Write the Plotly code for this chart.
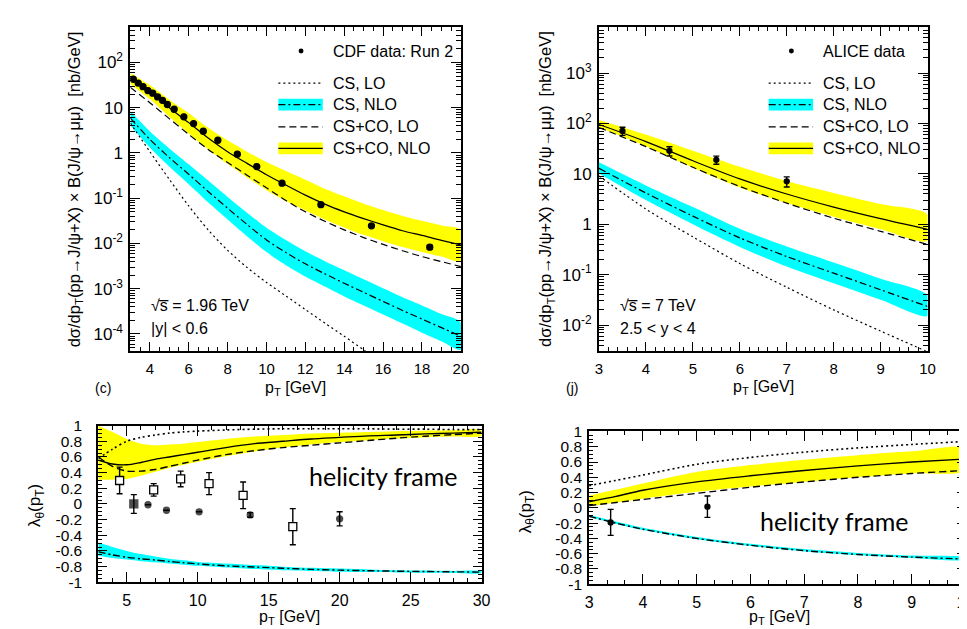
import plotly.graph_objects as go

W, H = 967, 629
def fx(p): return p / W
def fy(p): return 1 - p / H

# ---------------- top-left: Tevatron, CDF Run 2 ----------------
TL_X = [3, 4, 5, 6, 7, 8, 9, 10, 11, 12, 13, 14, 15, 16, 17, 18, 19, 20]
TL_COCS_NLO = [45.7, 22.9, 10.0, 4.68, 2.14, 1.07, 0.589, 0.331, 0.195, 0.117, 0.0741, 0.0501,
               0.0355, 0.0257, 0.0191, 0.0151, 0.0117, 0.00933]
TL_COCS_NLO_HI = [58.9, 31.6, 15.1, 7.59, 3.63, 1.91, 1.07, 0.631, 0.398, 0.257, 0.162, 0.110,
                  0.0759, 0.0550, 0.0407, 0.0316, 0.0251, 0.0200]
TL_COCS_NLO_LO = [33.1, 15.5, 6.31, 2.69, 1.20, 0.575, 0.288, 0.151, 0.0871, 0.0537, 0.0339, 0.0224,
                  0.0155, 0.0112, 0.00832, 0.00646, 0.00513, 0.00407]
TL_COCS_LO = [28.2, 12.9, 5.75, 2.57, 1.20, 0.617, 0.324, 0.170, 0.0891, 0.0501, 0.0309, 0.0200,
              0.0135, 0.00955, 0.00692, 0.00513, 0.00398, 0.00309]
TL_CS_NLO = [5.89, 2.00, 0.794, 0.339, 0.141, 0.0603, 0.0263, 0.0120, 0.00631, 0.00355, 0.00214,
             0.00132, 8.32e-4, 5.25e-4, 3.31e-4, 2.14e-4, 1.38e-4, 8.91e-5]
TL_CS_NLO_HI = [8.51, 3.02, 1.26, 0.562, 0.245, 0.107, 0.0479, 0.0224, 0.0120, 0.00676, 0.00407,
                0.00257, 0.00162, 0.00102, 6.46e-4, 4.27e-4, 2.75e-4, 1.78e-4]
TL_CS_NLO_LO = [4.07, 1.32, 0.501, 0.204, 0.0813, 0.0339, 0.0145, 0.00646, 0.00331, 0.00186, 0.00112,
                6.76e-4, 4.27e-4, 2.69e-4, 1.70e-4, 1.07e-4, 6.92e-5, 4.47e-5]
TL_CS_LO_X = [3, 4, 5, 6, 7, 8, 9, 10, 11, 12, 13, 14, 15, 16]
TL_CS_LO = [4.57, 1.07, 0.263, 0.0676, 0.0200, 0.00708, 0.00295, 0.00138, 6.92e-4, 3.47e-4,
            1.74e-4, 8.91e-5, 4.47e-5, 2.29e-5]
CDF_X = [3.15, 3.4, 3.65, 3.9, 4.15, 4.4, 4.65, 4.9, 5.25, 5.75, 6.25, 6.75, 7.5, 8.5, 9.5,
         10.8, 12.8, 15.4, 18.4]
CDF_Y = [42.6, 35.0, 29.2, 23.9, 21.0, 17.3, 14.6, 11.8, 9.25, 6.3, 4.47, 3.02, 1.91, 0.94, 0.50,
         0.215, 0.072, 0.0245, 0.0083]
CDF_ERR = [0, 0, 0, 0, 0, 0, 0, 0, 0, 0, 0, 0, 0, 0, 0, 0, 0, 0, 0.0009]

# ---------------- top-right: LHC 7 TeV, ALICE ----------------
TR_X = [3, 4, 5, 6, 7, 8, 9, 10]
TR_COCS_NLO = [95.5, 43.7, 18.2, 7.94, 3.98, 2.19, 1.29, 0.794]
TR_COCS_NLO_HI = [117.5, 60.3, 28.8, 13.8, 7.24, 4.17, 2.51, 1.55]
TR_COCS_NLO_LO = [83.2, 35.5, 13.2, 5.37, 2.63, 1.41, 0.794, 0.468]
TR_COCS_LO = [83.2, 34.7, 13.5, 5.62, 2.63, 1.32, 0.724, 0.398]
TR_CS_NLO = [12.9, 4.17, 1.45, 0.537, 0.229, 0.107, 0.0501, 0.0234]
TR_CS_NLO_HI = [17.0, 5.89, 2.19, 0.813, 0.363, 0.174, 0.0832, 0.0389]
TR_CS_NLO_LO = [10.2, 3.02, 1.00, 0.355, 0.145, 0.0676, 0.0316, 0.0151]
TR_CS_LO = [9.12, 2.00, 0.562, 0.166, 0.0562, 0.0200, 0.00759, 0.00295]
ALICE_X = [3.5, 4.5, 5.5, 7.0]
ALICE_Y = [71, 28.6, 19.0, 7.1]
ALICE_ERR = [13, 6, 3.5, 1.6]

# ---------------- bottom-left: polarisation, Tevatron ----------------
BL_X = [3, 4, 5, 6, 7, 8, 9, 10, 12, 14, 16, 18, 20, 22, 24, 26, 28, 30]
BL_COCS_NLO = [0.56, 0.51, 0.50, 0.53, 0.57, 0.60, 0.63, 0.66, 0.72, 0.77, 0.80, 0.83, 0.85, 0.87,
               0.88, 0.895, 0.905, 0.915]
BL_COCS_NLO_HI = [1.0, 0.92, 0.83, 0.77, 0.75, 0.76, 0.77, 0.79, 0.83, 0.86, 0.88, 0.90, 0.91, 0.92,
                  0.93, 0.935, 0.94, 0.945]
BL_COCS_NLO_LO = [0.31, 0.31, 0.32, 0.36, 0.41, 0.46, 0.50, 0.54, 0.61, 0.67, 0.72, 0.76, 0.79, 0.815,
                  0.835, 0.85, 0.86, 0.87]
BL_COCS_LO = [0.60, 0.48, 0.42, 0.42, 0.44, 0.48, 0.52, 0.56, 0.63, 0.68, 0.72, 0.75, 0.78, 0.81,
              0.84, 0.865, 0.885, 0.905]
BL_CS_LO = [0.58, 0.70, 0.80, 0.85, 0.88, 0.905, 0.92, 0.93, 0.945, 0.955, 0.96, 0.96, 0.96, 0.96,
            0.955, 0.955, 0.95, 0.95]
BL_CS_NLO = [-0.61, -0.65, -0.68, -0.70, -0.715, -0.735, -0.75, -0.765, -0.79, -0.805, -0.82, -0.835,
             -0.845, -0.852, -0.858, -0.862, -0.866, -0.87]
BL_CS_NLO_HI = [-0.49, -0.55, -0.60, -0.64, -0.67, -0.70, -0.72, -0.74, -0.76, -0.78, -0.80, -0.815,
                -0.825, -0.835, -0.845, -0.85, -0.855, -0.86]
BL_CS_NLO_LO = [-0.66, -0.69, -0.71, -0.73, -0.745, -0.76, -0.775, -0.79, -0.81, -0.83, -0.845, -0.855,
                -0.865, -0.87, -0.875, -0.878, -0.88, -0.882]
RUN2_X = [4.5, 6.9, 8.8, 10.8, 13.2, 16.7]
RUN2_Y = [0.30, 0.18, 0.32, 0.26, 0.11, -0.29]
RUN2_ERR = [0.17, 0.08, 0.10, 0.14, 0.17, 0.23]
RUN1_X = [5.5, 6.5, 7.8, 10.1, 13.7, 20.0]
RUN1_Y = [0.0, -0.01, -0.08, -0.10, -0.14, -0.19]
RUN1_ERR = [0.12, 0, 0, 0, 0.03, 0.09]

# ---------------- bottom-right: polarisation, LHC ----------------
BR_X = [3, 3.5, 4, 5, 6, 7, 8, 9, 10]
BR_COCS_NLO = [0.08, 0.15, 0.23, 0.34, 0.42, 0.49, 0.55, 0.60, 0.64]
BR_COCS_NLO_HI = [0.16, 0.24, 0.32, 0.47, 0.56, 0.63, 0.69, 0.74, 0.78]
BR_COCS_NLO_LO = [0.02, 0.07, 0.12, 0.21, 0.28, 0.34, 0.40, 0.45, 0.49]
BR_COCS_LO = [0.03, 0.07, 0.11, 0.19, 0.27, 0.34, 0.40, 0.45, 0.49]
BR_CS_LO = [0.29, 0.36, 0.43, 0.57, 0.66, 0.73, 0.785, 0.83, 0.87]
BR_CS_NLO = [-0.11, -0.20, -0.28, -0.40, -0.49, -0.56, -0.61, -0.645, -0.67]
BR_CS_NLO_HI = [-0.09, -0.18, -0.26, -0.38, -0.47, -0.54, -0.59, -0.625, -0.65]
BR_CS_NLO_LO = [-0.12, -0.21, -0.29, -0.41, -0.50, -0.57, -0.62, -0.655, -0.68]
BR_DATA_X = [3.4, 5.2]
BR_DATA_Y = [-0.19, 0.015]
BR_DATA_ERR = [0.17, 0.14]

YELLOW = "#ffff00"
CYAN = "#00ffff"
DOT = "2px,3px"
DASH = "7px,4px"
DASHDOT = "7px,3px,2px,3px"
FONT = "Liberation Sans, Arial, Helvetica, sans-serif"

fig = go.Figure()

def band(x, hi, lo, color, n):
    xs = list(x) + list(x)[::-1]
    ys = list(hi) + list(lo)[::-1]
    fig.add_trace(go.Scatter(x=xs, y=ys, fill="toself", fillcolor=color, mode="lines",
                             line=dict(width=0, shape="spline", smoothing=0.8),
                             xaxis="x" + n, yaxis="y" + n, hoverinfo="skip", showlegend=False))

def curve(x, y, dash, n, width=1.2):
    fig.add_trace(go.Scatter(x=x, y=y, mode="lines",
                             line=dict(color="black", width=width, dash=dash, shape="spline", smoothing=0.8),
                             xaxis="x" + n, yaxis="y" + n, hoverinfo="skip", showlegend=False))

def points(x, y, err, n, symbol="circle", size=6, color="black"):
    fig.add_trace(go.Scatter(x=x, y=y, mode="markers",
                             marker=dict(symbol=symbol, size=size, color=color,
                                         line=dict(color="black", width=1.3)),
                             error_y=dict(type="data", array=err, visible=True, color="black",
                                          thickness=1.4, width=3),
                             xaxis="x" + n, yaxis="y" + n, showlegend=False))

# panel 1
band(TL_X, TL_COCS_NLO_HI, TL_COCS_NLO_LO, YELLOW, "")
band(TL_X, TL_CS_NLO_HI, TL_CS_NLO_LO, CYAN, "")
curve(TL_CS_LO_X, TL_CS_LO, DOT, "")
curve(TL_X, TL_CS_NLO, DASHDOT, "")
curve(TL_X, TL_COCS_LO, DASH, "")
curve(TL_X, TL_COCS_NLO, "solid", "")
points(CDF_X, CDF_Y, CDF_ERR, "", size=6)

# panel 2
band(TR_X, TR_COCS_NLO_HI, TR_COCS_NLO_LO, YELLOW, "2")
band(TR_X, TR_CS_NLO_HI, TR_CS_NLO_LO, CYAN, "2")
curve(TR_X, TR_CS_LO, DOT, "2")
curve(TR_X, TR_CS_NLO, DASHDOT, "2")
curve(TR_X, TR_COCS_LO, DASH, "2")
curve(TR_X, TR_COCS_NLO, "solid", "2")
points(ALICE_X, ALICE_Y, ALICE_ERR, "2", size=5)

# panel 3
band(BL_X, BL_COCS_NLO_HI, BL_COCS_NLO_LO, YELLOW, "3")
band(BL_X, BL_CS_NLO_HI, BL_CS_NLO_LO, CYAN, "3")
curve(BL_X, BL_CS_LO, DOT, "3", width=1.6)
curve(BL_X, BL_CS_NLO, DASHDOT, "3", width=1.4)
curve(BL_X, BL_COCS_LO, DASH, "3", width=1.4)
curve(BL_X, BL_COCS_NLO, "solid", "3", width=1.4)
points(RUN2_X, RUN2_Y, RUN2_ERR, "3", symbol="square", size=8, color="white")
points(RUN1_X, RUN1_Y, RUN1_ERR, "3", symbol=["square"] + ["circle"] * 5, size=[8, 6, 6, 6, 6, 6])

# panel 4
band(BR_X, BR_COCS_NLO_HI, BR_COCS_NLO_LO, YELLOW, "4")
band(BR_X, BR_CS_NLO_HI, BR_CS_NLO_LO, CYAN, "4")
curve(BR_X, BR_CS_LO, DOT, "4", width=1.6)
curve(BR_X, BR_CS_NLO, DASHDOT, "4", width=1.4)
curve(BR_X, BR_COCS_LO, DASH, "4", width=1.4)
curve(BR_X, BR_COCS_NLO, "solid", "4", width=1.4)
points(BR_DATA_X, BR_DATA_Y, BR_DATA_ERR, "4", size=5)

def ax(size, **kw):
    d = dict(showline=True, linecolor="black", linewidth=2, mirror="allticks", ticks="inside",
             ticklen=9, tickwidth=1.3, tickcolor="black", showgrid=False, zeroline=False,
             tickfont=dict(family=FONT, size=size, color="black"))
    d.update(kw)
    return d

LOG_TICKS_1 = [1e-4, 1e-3, 1e-2, 1e-1, 1, 10, 100]
LOG_TEXT_1 = ["10<sup>-4</sup>", "10<sup>-3</sup>", "10<sup>-2</sup>", "10<sup>-1</sup>", "1", "10", "10<sup>2</sup>"]
LOG_TICKS_2 = [1e-2, 1e-1, 1, 10, 100, 1000]
LOG_TEXT_2 = ["10<sup>-2</sup>", "10<sup>-1</sup>", "1", "10", "10<sup>2</sup>", "10<sup>3</sup>"]
LAM_TICKS = [-1, -0.8, -0.6, -0.4, -0.2, 0, 0.2, 0.4, 0.6, 0.8, 1]
LAM_TEXT = ["-1", "-0.8", "-0.6", "-0.4", "-0.2", "0", "0.2", "0.4", "0.6", "0.8", "1"]

minor_lin = lambda d: dict(ticks="inside", ticklen=4, tickwidth=1, tickcolor="black", dtick=d)
minor_log = dict(ticks="inside", ticklen=5, tickwidth=1, tickcolor="black", dtick="D1")

fig.update_layout(
    width=W, height=H, margin=dict(l=0, r=0, t=0, b=0),
    paper_bgcolor="white", plot_bgcolor="white", showlegend=False,
    xaxis=ax(15, domain=[fx(120), fx(455)], range=[3, 20], anchor="y",
             tickvals=[4, 6, 8, 10, 12, 14, 16, 18, 20], minor=minor_lin(0.5), ticklabelstandoff=3),
    yaxis=ax(17, domain=[fy(343), fy(10)], type="log", range=[-4.37, 2.79], anchor="x",
             tickvals=LOG_TICKS_1, ticktext=LOG_TEXT_1, ticklen=10, minor=minor_log,
             ticklabelstandoff=2),
    xaxis2=ax(15, domain=[fx(595), fx(928)], range=[3, 10], anchor="y2", dtick=1,
              minor=minor_lin(0.2), ticklabelstandoff=3),
    yaxis2=ax(17, domain=[fy(343), fy(10)], type="log", range=[-2.51, 3.92], anchor="x2",
              tickvals=LOG_TICKS_2, ticktext=LOG_TEXT_2, ticklen=10, minor=minor_log,
              ticklabelstandoff=2),
    xaxis3=ax(16, domain=[fx(87.5), fx(476)], range=[3, 30], anchor="y3",
              tickvals=[5, 10, 15, 20, 25, 30], minor=minor_lin(1), ticklen=10, ticklabelstandoff=3),
    yaxis3=ax(15.5, domain=[fy(581), fy(420)], range=[-1, 1], anchor="x3",
              tickvals=LAM_TICKS, ticktext=LAM_TEXT, minor=minor_lin(0.05), ticklen=9,
              ticklabelstandoff=11),
    xaxis4=ax(16, domain=[fx(585), fx(966.5)], range=[3, 10], anchor="y4", dtick=1,
              minor=dict(ticks="inside", ticklen=4, tickwidth=1, tickcolor="black", tick0=3, dtick=1 / 3),
              ticklen=10, ticklabelstandoff=3),
    yaxis4=ax(15.5, domain=[fy(583), fy(426)], range=[-1, 1], anchor="x4",
              tickvals=LAM_TICKS, ticktext=LAM_TEXT, minor=minor_lin(0.05), ticklen=9,
              ticklabelstandoff=2),
)

ann = []
def text(x, y, s, size=14, angle=0, xanchor="center", family=FONT):
    ann.append(dict(x=fx(x), y=fy(y), xref="paper", yref="paper", text=s, showarrow=False,
                    font=dict(family=family, size=size, color="black"), xanchor=xanchor,
                    yanchor="middle", textangle=angle))

YTITLE = "dσ/dp<sub>T</sub>(pp→J/ψ+X) × B(J/ψ→μμ)  [nb/GeV]"
text(64, 177, YTITLE, 16.5, -90)
text(542, 177, YTITLE, 16.5, -90)
text(287, 382, "p<sub>T</sub> [GeV]", 16)
text(762, 381, "p<sub>T</sub> [GeV]", 16)
text(92, 381, "(c)", 14)
text(568, 381, "(j)", 14)
text(139, 296, "√s\u0305 = 1.96 TeV", 16, xanchor="left")
text(139, 320, "|y| < 0.6", 16, xanchor="left")
text(614, 296, "√s\u0305 = 7 TeV", 16, xanchor="left")
text(614, 320, "2.5 < y < 4", 16, xanchor="left")
text(25, 502, "λ<sub>θ</sub>(p<sub>T</sub>)", 17, -90)
text(522, 508, "λ<sub>θ</sub>(p<sub>T</sub>)", 17, -90)
text(281, 617, "p<sub>T</sub> [GeV]", 16)
text(778, 617, "p<sub>T</sub> [GeV]", 16)
text(376, 472, "helicity frame", 25, family="Lato, Open Sans, sans-serif")
text(833, 518, "helicity frame", 25, family="Lato, Open Sans, sans-serif")

shapes = []
def legend(x0, x1, xt, xm, title):
    rows = [68, 90, 113, 135]
    labels = ["CS, LO", "CS, NLO", "CS+CO, LO", "CS+CO, NLO"]
    shapes.append(dict(type="circle", xref="paper", yref="paper", x0=fx(xm - 2.5), x1=fx(xm + 2.5),
                       y0=fy(35 + 2.5), y1=fy(35 - 2.5), fillcolor="black", line=dict(width=0)))
    text(xt, 35, title, 16, xanchor="left")
    for r, lab in zip(rows, labels):
        text(xt, r, lab, 16, xanchor="left")
    shapes.append(dict(type="rect", xref="paper", yref="paper", x0=fx(x0), x1=fx(x1),
                       y0=fy(96), y1=fy(84), fillcolor=CYAN, line=dict(width=0), layer="below"))
    shapes.append(dict(type="rect", xref="paper", yref="paper", x0=fx(x0), x1=fx(x1),
                       y0=fy(141), y1=fy(129), fillcolor=YELLOW, line=dict(width=0), layer="below"))
    for r, dsh in zip(rows, [DOT, DASHDOT, DASH, "solid"]):
        shapes.append(dict(type="line", xref="paper", yref="paper", x0=fx(x0), x1=fx(x1),
                           y0=fy(r), y1=fy(r), line=dict(color="black", width=1.2, dash=dsh)))

legend(270, 315, 323, 293, "CDF data: Run 2")
legend(767, 812, 820, 790, "ALICE data")

fig.update_layout(annotations=ann, shapes=shapes)
fig.write_html("out.html", config={"displayModeBar": False})
